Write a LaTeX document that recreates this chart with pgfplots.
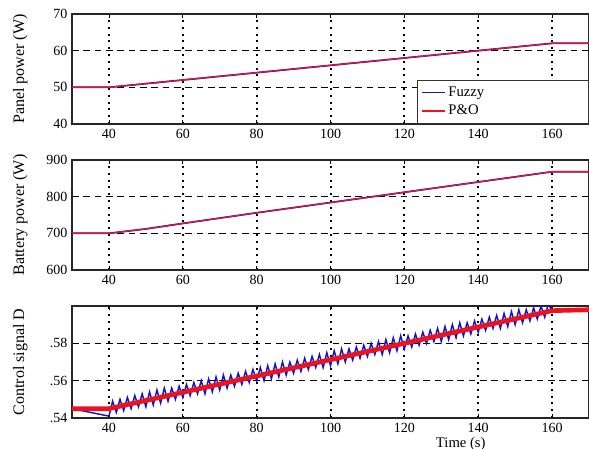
\documentclass[border=0pt]{standalone}
\usepackage{fontspec}
\setmainfont{Liberation Serif}
\usepackage{pgfplots}
\pgfplotsset{compat=1.18}
\definecolor{myred}{RGB}{235,20,30}
\definecolor{myblue}{RGB}{20,20,200}
\pgfplotsset{
 myax/.style={
  scale only axis, width=387.75pt,
  xmin=30, xmax=170, xtick={40,60,...,160},
  axis line style={black!85, line width=1.1pt},
  tick style={black, line width=0.6pt}, tick align=inside, major tick length=3pt,
  xmajorgrids, ymajorgrids,
  x grid style={black, line width=1.5pt, dash pattern=on 1.5pt off 3.6pt},
  y grid style={black, line width=1pt, dash pattern=on 5pt off 3.5pt},
  ticklabel style={font=\fontsize{10.5}{12}\selectfont},
  /pgf/number format/assume math mode=true,
  label style={font=\fontsize{12}{14}\selectfont},
  ylabel style={at={(axis description cs:-0.10,0.5)}, anchor=center},
 }
}
\begin{document}
\begin{tikzpicture}
% Top: panel power
\begin{axis}[myax, at={(54pt,-10.5pt)}, anchor=north west, height=82.5pt,
  ymin=40, ymax=70, ytick={40,50,60,70},
  ylabel={Panel power (W)},
  legend style={at={(1,0)}, anchor=south east, draw=black!80, line width=0.8pt,
    font=\fontsize{11}{13}\selectfont, row sep=1pt, inner ysep=3pt},
  legend cell align=left]
\addplot[myblue, line width=1.3pt] coordinates {(30,50) (40,50) (60,52) (80,54) (100,56) (120,58) (140,60) (160,62) (170,62)};
\addlegendentry{\makebox[100pt][l]{Fuzzy}}
\addplot[myred, line width=0.9pt] coordinates {(30,50) (40,50) (60,52) (80,54) (100,56) (120,58) (140,60) (160,62) (170,62)};
\addlegendentry{\makebox[100pt][l]{P\&O}}
\end{axis}
% Middle: battery power
\begin{axis}[myax, at={(54pt,-120pt)}, anchor=north west, height=82.5pt,
  ymin=600, ymax=900, ytick={600,700,800,900},
  ylabel={Battery power (W)}]
\addplot[myblue, line width=1.3pt] coordinates {(30,700) (40,700) (50,712) (60,727) (80,756) (100,784) (120,812) (140,840) (160,868) (170,868)};
\addplot[myred, line width=0.9pt] coordinates {(30,700) (40,700) (50,712) (60,727) (80,756) (100,784) (120,812) (140,840) (160,868) (170,868)};
\end{axis}
% Bottom: control signal
\begin{axis}[myax, at={(54pt,-229.5pt)}, anchor=north west, height=84pt,
  ymin=0.54, ymax=0.60, ytick={0.54,0.56,0.58}, yticklabels={.54,.56,.58},
  ylabel={Control signal D},
  xlabel={Time (s)},
  xlabel style={at={(axis description cs:0.752,0)}, anchor=north, yshift=-11pt, font=\fontsize{11}{12}\selectfont}]
\addplot[myblue, line width=1.1pt] coordinates {
(30,0.545) (40,0.541) (41,0.549) (42,0.543) (43,0.550) (44,0.544) (45,0.551) (46,0.545) (47,0.552) (48,0.546) (49,0.553)
(50,0.546) (51,0.554) (52,0.547) (53,0.555) (54,0.548) (55,0.556) (56,0.549) (57,0.556) (58,0.550) (59,0.557)
(60,0.551) (61,0.558) (62,0.552) (63,0.559) (64,0.553) (65,0.560) (66,0.553) (67,0.561) (68,0.554) (69,0.562)
(70,0.555) (71,0.563) (72,0.556) (73,0.563) (74,0.557) (75,0.564) (76,0.558) (77,0.565) (78,0.559) (79,0.566)
(80,0.560) (81,0.567) (82,0.560) (83,0.568) (84,0.561) (85,0.569) (86,0.562) (87,0.570) (88,0.563) (89,0.570)
(90,0.564) (91,0.571) (92,0.565) (93,0.572) (94,0.566) (95,0.573) (96,0.567) (97,0.574) (98,0.567) (99,0.575)
(100,0.568) (101,0.576) (102,0.569) (103,0.577) (104,0.570) (105,0.577) (106,0.571) (107,0.578) (108,0.572) (109,0.579)
(110,0.573) (111,0.580) (112,0.574) (113,0.581) (114,0.574) (115,0.582) (116,0.575) (117,0.583) (118,0.576) (119,0.584)
(120,0.577) (121,0.584) (122,0.578) (123,0.585) (124,0.579) (125,0.586) (126,0.580) (127,0.587) (128,0.581) (129,0.588)
(130,0.581) (131,0.589) (132,0.582) (133,0.590) (134,0.583) (135,0.591) (136,0.584) (137,0.591) (138,0.585) (139,0.592)
(140,0.586) (141,0.593) (142,0.587) (143,0.594) (144,0.588) (145,0.595) (146,0.588) (147,0.596) (148,0.589) (149,0.597)
(150,0.590) (151,0.598) (152,0.591) (153,0.598) (154,0.592) (155,0.599) (156,0.593) (157,0.600) (158,0.594) (159,0.601)
(160,0.5975) (170,0.598)};
\addplot[myred, line width=3.5pt] coordinates {(30,0.545) (40,0.545) (160,0.5975) (170,0.598)};
\end{axis}
\pgfresetboundingbox
\useasboundingbox (0,0) rectangle (441.75pt,-336.75pt);
\end{tikzpicture}
\end{document}
